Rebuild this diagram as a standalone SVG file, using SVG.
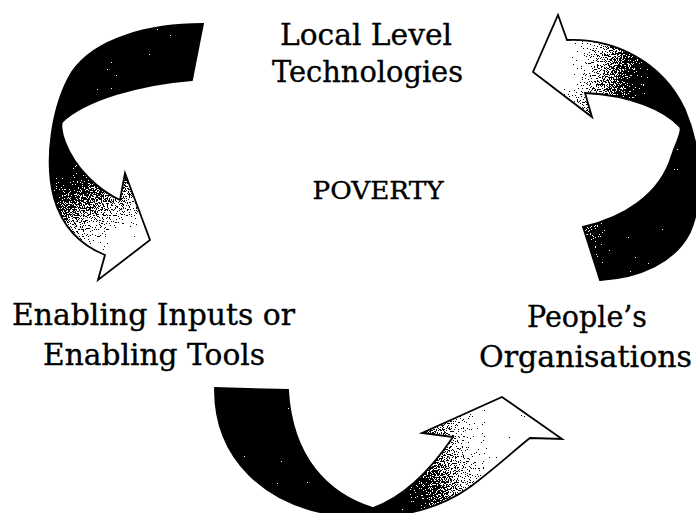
<svg xmlns="http://www.w3.org/2000/svg" xmlns:xlink="http://www.w3.org/1999/xlink" width="696" height="513" viewBox="0 0 696 513">
  <style>
    .label { font-family: "DejaVu Serif", "Liberation Serif", serif; font-size: 30px; fill: #000; stroke: #000; stroke-width: 0.35; text-anchor: middle; }
    .centre { font-family: "DejaVu Serif", "Liberation Serif", serif; font-size: 24px; fill: #000; stroke: #000; stroke-width: 0.35; text-anchor: middle; }
    .outline { fill: none; stroke: #000; stroke-width: 1.8; stroke-linejoin: miter; }
    .shade { stroke: none; filter: url(#grain); }
  </style>
  <defs>
    <!-- each curved ribbon fades from solid black at its tail to white at its head -->
    <linearGradient id="fadeLeft" gradientUnits="userSpaceOnUse" x1="66" y1="140" x2="128" y2="248">
      <stop offset="0" stop-color="#000"/>
      <stop offset="0.12" stop-color="#000"/>
      <stop offset="1" stop-color="#fff"/>
    </linearGradient>
    <linearGradient id="fadeRight" gradientUnits="userSpaceOnUse" x1="668" y1="95" x2="560" y2="68">
      <stop offset="0" stop-color="#000"/>
      <stop offset="0.12" stop-color="#000"/>
      <stop offset="1" stop-color="#fff"/>
    </linearGradient>
    <linearGradient id="fadeBottom" gradientUnits="userSpaceOnUse" x1="372" y1="470" x2="498" y2="440">
      <stop offset="0" stop-color="#000"/>
      <stop offset="0.08" stop-color="#000"/>
      <stop offset="1" stop-color="#fff"/>
    </linearGradient>
    <!-- noise dither: turns the smooth grey ramp into a speckled halftone -->
    <filter id="grain" x="-5%" y="-5%" width="110%" height="110%" color-interpolation-filters="sRGB">
      <feTurbulence type="fractalNoise" baseFrequency="0.85" numOctaves="2" seed="7" result="noise"/>
      <feColorMatrix in="noise" type="matrix" values="1 0 0 0 0  1 0 0 0 0  1 0 0 0 0  0 0 0 0 1" result="grey"/>
      <feComposite in="SourceGraphic" in2="grey" operator="arithmetic" k1="0" k2="1" k3="1.5" k4="-0.75" result="mix"/>
      <feComponentTransfer in="mix" result="dots">
        <feFuncR type="discrete" tableValues="0 1"/>
        <feFuncG type="discrete" tableValues="0 1"/>
        <feFuncB type="discrete" tableValues="0 1"/>
      </feComponentTransfer>
      <feComposite in="dots" in2="SourceGraphic" operator="in"/>
    </filter>
    <path id="ribbonLeft"
          d="M203,24 C150,24 95,38 72,72 C52,105 44,160 54,198 C62,226 80,245 105,255 L98,280 L150,240 L125,173 L120,200 C98,190 75,168 65,142 C61,132 61,124 62,122 C85,100 140,84 192,80 Z"/>
    <path id="ribbonRight"
          d="M567,40 C612,38 662,60 685,110 C702,150 704,200 690,232 C675,262 640,278 600,280 L583,227 C622,218 660,196 672,155 C677,140 683,131 680,127 C665,110 630,95 585,93 L592,117 L533,72 L558,15 Z"/>
    <path id="ribbonBottom"
          d="M215,388 C214,455 262,508 345,516 C390,520 435,512 470,487 C498,466 518,447 530,438 L562,439 L502,397 L422,433 L453,437 C432,468 404,497 373,508 C328,494 292,458 288,390 Z"/>
  </defs>

  <!-- curved arrows linking the three fields around the centre -->
  <g id="connectors">
    <g id="arrow-tech-to-inputs">
      <use xlink:href="#ribbonLeft" class="shade" fill="url(#fadeLeft)"/>
      <use xlink:href="#ribbonLeft" class="outline"/>
    </g>
    <g id="arrow-orgs-to-tech">
      <use xlink:href="#ribbonRight" class="shade" fill="url(#fadeRight)"/>
      <use xlink:href="#ribbonRight" class="outline"/>
    </g>
    <g id="arrow-inputs-to-orgs">
      <use xlink:href="#ribbonBottom" class="shade" fill="url(#fadeBottom)"/>
      <use xlink:href="#ribbonBottom" class="outline"/>
    </g>
  </g>

  <g id="node-technologies">
    <text class="label" x="366" y="45" textLength="172" lengthAdjust="spacingAndGlyphs">Local Level</text>
    <text class="label" x="367.5" y="82" textLength="191" lengthAdjust="spacingAndGlyphs">Technologies</text>
  </g>
  <g id="node-poverty">
    <text class="centre" x="378" y="199" textLength="131" lengthAdjust="spacingAndGlyphs">POVERTY</text>
  </g>
  <g id="node-inputs">
    <text class="label" x="153.5" y="325" textLength="283" lengthAdjust="spacingAndGlyphs">Enabling Inputs or</text>
    <text class="label" x="154" y="365" textLength="222" lengthAdjust="spacingAndGlyphs">Enabling Tools</text>
  </g>
  <g id="node-organisations">
    <text class="label" x="587" y="327" textLength="120" lengthAdjust="spacingAndGlyphs">People’s</text>
    <text class="label" x="585.5" y="367" textLength="213" lengthAdjust="spacingAndGlyphs">Organisations</text>
  </g>
</svg>
